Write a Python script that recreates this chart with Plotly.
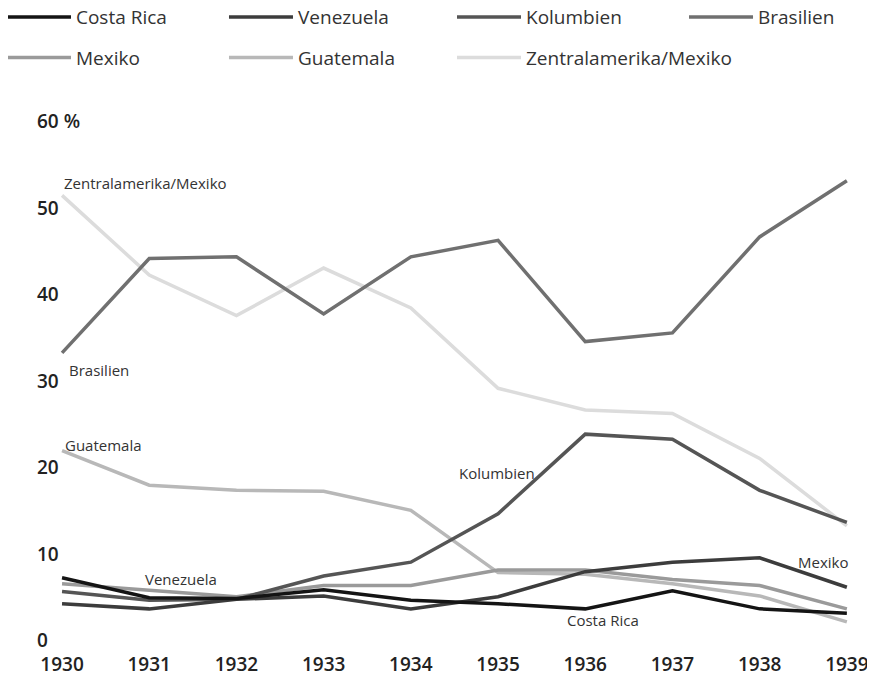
import plotly.graph_objects as go

years = [1930, 1931, 1932, 1933, 1934, 1935, 1936, 1937, 1938, 1939]

costa_rica = [7.2, 4.9, 4.8, 5.8, 4.6, 4.2, 3.6, 5.7, 3.6, 3.1]
venezuela = [4.2, 3.6, 4.7, 5.1, 3.6, 5.0, 7.9, 9.0, 9.5, 6.1]
kolumbien = [5.6, 4.6, 4.7, 7.4, 9.0, 14.6, 23.8, 23.2, 17.3, 13.6]
brasilien = [33.2, 44.1, 44.3, 37.7, 44.3, 46.2, 34.5, 35.5, 46.6, 53.1]
mexiko = [6.5, 5.8, 5.0, 6.3, 6.3, 8.1, 8.1, 7.0, 6.3, 3.6]
guatemala = [21.9, 17.9, 17.3, 17.2, 15.0, 7.8, 7.6, 6.5, 5.1, 2.1]
zentral = [51.4, 42.2, 37.5, 43.0, 38.4, 29.1, 26.6, 26.2, 21.0, 13.2]

y_tickvals = [0, 10, 20, 30, 40, 50, 60]
y_ticktext = ["0", "10", "20", "30", "40", "50", "60 %"]

# name, values, colour, legend column
series = [
    ("Costa Rica", costa_rica, "#141414", "legend"),
    ("Venezuela", venezuela, "#3c3c3c", "legend2"),
    ("Kolumbien", kolumbien, "#555555", "legend3"),
    ("Brasilien", brasilien, "#707070", "legend4"),
    ("Mexiko", mexiko, "#9a9a9a", "legend"),
    ("Guatemala", guatemala, "#b8b8b8", "legend2"),
    ("Zentralamerika/Mexiko", zentral, "#dcdcdc", "legend3"),
]

FONT = "Open Sans"

fig = go.Figure()
order = [s[0] for s in series]
for name, vals, color, lg in reversed(series):
    fig.add_trace(go.Scatter(
        x=years, y=vals, name=name, mode="lines",
        line=dict(color=color, width=3.5),
        legend=lg, legendgroup=name, legendrank=order.index(name),
    ))

labels = [
    ("Zentralamerika/Mexiko", 1930.0, 52.8, "left"),
    ("Brasilien", 1930.06, 31.2, "left"),
    ("Guatemala", 1930.01, 22.5, "left"),
    ("Kolumbien", 1934.53, 19.3, "left"),
    ("Venezuela", 1930.93, 7.05, "left"),
    ("Costa Rica", 1935.77, 2.3, "left"),
    ("Mexiko", 1939.04, 9.0, "right"),
]
for txt, x, y, anc in labels:
    fig.add_annotation(x=x, y=y, text=txt, showarrow=False, xanchor=anc,
                       yanchor="middle", xref="x", yref="y",
                       font=dict(family=FONT, size=15, color="#333333"))

for v, t in zip(y_tickvals, y_ticktext):
    fig.add_annotation(x=0, xref="paper", xshift=2, y=v, yref="y", text=t,
                       showarrow=False, xanchor="left", yanchor="middle",
                       font=dict(family=FONT, size=19, color="#222222", weight=600))

def leg(xp):
    return dict(
        orientation="v", xref="paper", yref="paper",
        x=xp, xanchor="left", y=1.185, yanchor="top",
        itemwidth=64, tracegroupgap=13,
        font=dict(family=FONT, size=19, color="#333333"),
        bgcolor="rgba(0,0,0,0)", traceorder="grouped",
    )

fig.update_layout(
    width=859, height=669,
    margin=dict(l=25, r=0, t=92, b=26, autoexpand=False),
    paper_bgcolor="white", plot_bgcolor="white",
    showlegend=True,
    legend=leg(-0.0372), legend2=leg(0.2290), legend3=leg(0.5024), legend4=leg(0.7806),
    xaxis=dict(
        range=[1929.667, 1939.231], tickvals=years,
        ticktext=[str(y) for y in years], automargin=False,
        ticklabeloverflow="allow",
        showgrid=False, zeroline=False, showline=False, ticks="",
        tickfont=dict(family=FONT, size=19, color="#222222", weight=600),
    ),
    yaxis=dict(
        range=[-1.27, 62.43], automargin=False, showticklabels=False,
        showgrid=False, zeroline=False, showline=False, ticks="",
    ),
)

fig.write_html("out.html")
